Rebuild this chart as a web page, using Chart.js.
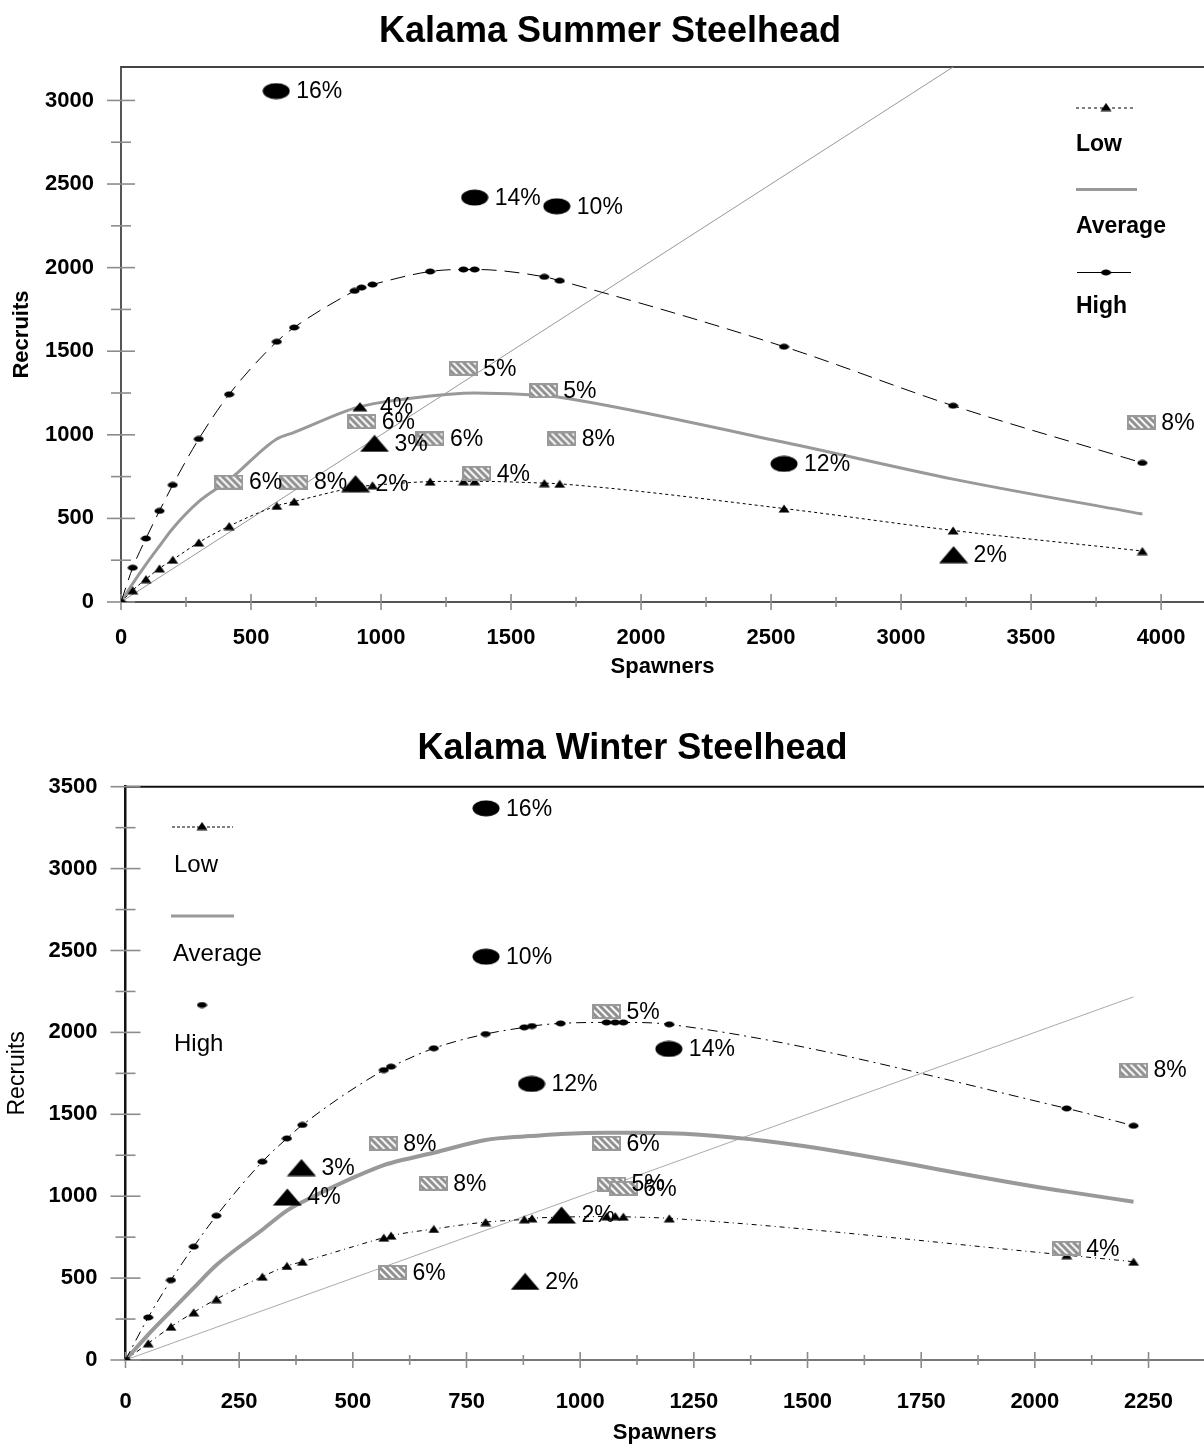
<!DOCTYPE html>
<html>
<head>
<meta charset="utf-8">
<title>Kalama Steelhead stock-recruit curves</title>
<script src="https://cdn.jsdelivr.net/npm/chart.js@4.4.1/dist/chart.umd.min.js"></script>
<style>
  html, body { margin: 0; padding: 0; background: #fff; overflow: hidden; }
  #summerBox { position: absolute; left: 0; top: 0; width: 1204px; height: 700px; }
  #winterBox { position: absolute; left: 0; top: 700px; width: 1204px; height: 748px; }
</style>
</head>
<body>
<div id="summerBox"><canvas id="summerChart"></canvas></div>
<div id="winterBox"><canvas id="winterChart"></canvas></div>
<script>
// ---------------- Kalama Summer Steelhead ----------------
// spawner counts at which the Low / Average / High recruit curves are evaluated
const summerSpawners = [0, 45, 96, 148, 199, 299, 416, 599, 666, 898, 925, 967, 1189, 1317, 1360, 1628, 1687, 2550, 3200, 3928];
const summerLow      = [0, 70, 137, 201, 253, 356, 454, 575, 601, 686, 692, 698, 720, 722, 722, 711, 707, 559, 428, 305];
const summerAverage  = [0, 110, 225, 335, 440, 600, 730, 975, 1015, 1160, 1170, 1185, 1232, 1248, 1250, 1235, 1225, 955, 735, 526];
const summerHigh     = [0, 205, 380, 545, 700, 975, 1242, 1557, 1642, 1861, 1881, 1899, 1977, 1989, 1989, 1945, 1922, 1527, 1174, 832];
// replacement line (recruits = spawners)
const summerReplacementS = [0, 3928];
const summerReplacementR = [0, 3928];
// equilibrium points by harvest rate
const summerHighEqS = [597, 1360, 1676, 2550];
const summerHighEqR = [3056, 2419, 2367, 826];
const summerHighEqLabels = ['16%', '14%', '10%', '12%'];
const summerLowEqS = [919, 975, 902, 3202];
const summerLowEqR = [1168, 949, 708, 283];
const summerLowEqLabels = ['4%', '3%', '2%', '2%'];
const summerAvgEqS = [415, 665, 926, 1188, 1316, 1368, 1624, 1695, 3924];
const summerAvgEqR = [717, 717, 1079, 975, 1398, 770, 1264, 975, 1073];
const summerAvgEqLabels = ['6%', '8%', '6%', '6%', '5%', '4%', '5%', '8%', '8%'];
const summerXTicks = [0, 500, 1000, 1500, 2000, 2500, 3000, 3500, 4000];
const summerYTicks = [0, 500, 1000, 1500, 2000, 2500, 3000];

// ---------------- Kalama Winter Steelhead ----------------
const winterSpawners = [0, 50, 100, 150, 200, 301, 355, 389, 568, 584, 678, 792, 877, 894, 957, 1058, 1077, 1095, 1196, 2070, 2217];
const winterLow      = [0, 102, 203, 291, 372, 509, 574, 600, 747, 759, 800, 842, 859, 865, 872, 877, 878, 875, 865, 640, 600];
const winterAverage  = [0, 155, 298, 440, 580, 795, 912, 965, 1190, 1203, 1265, 1343, 1365, 1368, 1380, 1388, 1388, 1387, 1384, 1028, 966];
const winterHigh     = [0, 260, 488, 692, 881, 1211, 1353, 1435, 1770, 1791, 1903, 1990, 2031, 2039, 2055, 2061, 2061, 2061, 2049, 1536, 1430];
const winterReplacementS = [0, 2217];
const winterReplacementR = [0, 2217];
const winterHighEqS = [793, 793, 1195, 893];
const winterHighEqR = [3368, 2462, 1899, 1685];
const winterHighEqLabels = ['16%', '10%', '14%', '12%'];
const winterLowEqS = [387, 356, 879, 959];
const winterLowEqR = [1175, 995, 480, 885];
const winterLowEqLabels = ['3%', '4%', '2%', '2%'];
const winterAvgEqS = [1058, 567, 1058, 677, 1069, 1095, 587, 2217, 2069];
const winterAvgEqR = [2127, 1323, 1323, 1079, 1074, 1048, 535, 1770, 682];
const winterAvgEqLabels = ['5%', '8%', '6%', '8%', '5%', '6%', '6%', '8%', '4%'];
const winterXTicks = [0, 250, 500, 750, 1000, 1250, 1500, 1750, 2000, 2250];
const winterYTicks = [0, 500, 1000, 1500, 2000, 2500, 3000, 3500];

const FONT = '"Liberation Sans", Arial, Helvetica, sans-serif';

// ---------- marker images ----------
function makeCanvas(w, h, paint) {
  const c = document.createElement('canvas');
  c.width = w; c.height = h;
  paint(c.getContext('2d'), w, h);
  return c;
}
function ellipseMarker(w, h) {
  return makeCanvas(w, h, (g) => {
    g.fillStyle = '#000';
    g.beginPath();
    g.ellipse(w / 2, h / 2, w / 2 - 0.5, h / 2 - 0.5, 0, 0, Math.PI * 2);
    g.fill();
  });
}
function triangleMarker(w, h) {
  return makeCanvas(w, h, (g) => {
    g.fillStyle = '#000';
    g.beginPath();
    g.moveTo(w / 2, 0.5);
    g.lineTo(w - 0.5, h - 0.5);
    g.lineTo(0.5, h - 0.5);
    g.closePath();
    g.fill();
  });
}
function hatchMarker(w, h) {
  return makeCanvas(w, h, (g) => {
    g.fillStyle = '#fff';
    g.fillRect(0, 0, w, h);
    g.save();
    g.beginPath(); g.rect(0, 0, w, h); g.clip();
    g.strokeStyle = '#8e8e8e';
    g.lineWidth = 3;
    for (let k = -h; k < w + h; k += 7) {
      g.beginPath(); g.moveTo(k, 0); g.lineTo(k + h, h); g.stroke();
    }
    g.restore();
    g.strokeStyle = '#999';
    g.lineWidth = 2;
    g.strokeRect(1, 1, w - 2, h - 2);
  });
}

const bigEllipse = ellipseMarker(28, 17);
const bigTriangle = triangleMarker(30, 18);
const midTriangle = triangleMarker(16, 10);
const hatchBox = hatchMarker(29, 15);
const smallDot = ellipseMarker(11, 7);
const smallTriangle = triangleMarker(12, 9);

function points(xs, ys) { return xs.map((x, i) => ({ x, y: ys[i] })); }

function curveDataset(label, xs, ys, style) {
  return Object.assign({
    label, data: points(xs, ys), showLine: true,
    cubicInterpolationMode: 'monotone',
    borderColor: '#000', backgroundColor: '#000', borderWidth: 1,
    pointRadius: 5, pointHoverRadius: 5, order: 1
  }, style);
}
function markerDataset(label, xs, ys, labels, style) {
  return Object.assign({
    label, data: points(xs, ys), showLine: false, pctLabels: labels,
    pointRadius: 8, pointHoverRadius: 8, order: 0
  }, style);
}

// ---------- plugins ----------
const framePlugin = {
  id: 'frame',
  beforeDatasetsDraw(chart, args, o) {
    const { ctx, chartArea: a, scales: { x, y } } = chart;
    ctx.save();
    ctx.strokeStyle = o.topColor; ctx.lineWidth = o.topWidth;
    ctx.beginPath(); ctx.moveTo(a.left, a.top); ctx.lineTo(a.right, a.top); ctx.stroke();
    ctx.strokeStyle = '#8c8c8c'; ctx.lineWidth = 1.6;
    for (let v = 0; v <= y.max + 0.01; v += o.yMinor) {
      const py = y.getPixelForValue(v);
      const half = (v % o.yMajor === 0) ? o.yMajorHalf : o.yMinorHalf;
      ctx.beginPath(); ctx.moveTo(a.left - half, py); ctx.lineTo(a.left + half, py); ctx.stroke();
    }
    for (let v = 0; v <= x.max + 0.01; v += o.xMinor) {
      const px = x.getPixelForValue(v);
      const half = (v % o.xMajor === 0) ? o.xMajorHalf : o.xMinorHalf;
      ctx.beginPath(); ctx.moveTo(px, a.bottom - half); ctx.lineTo(px, a.bottom + half); ctx.stroke();
    }
    ctx.restore();
  }
};

const headingPlugin = {
  id: 'heading',
  afterDraw(chart, args, o) {
    const ctx = chart.ctx;
    ctx.save();
    ctx.font = 'bold 36px ' + FONT;
    ctx.fillStyle = '#000';
    ctx.textAlign = 'center';
    ctx.textBaseline = 'alphabetic';
    ctx.fillText(o.text, o.x, o.y);
    ctx.restore();
  }
};

const pctLabelPlugin = {
  id: 'pctLabels',
  afterDatasetsDraw(chart, args, o) {
    const ctx = chart.ctx;
    ctx.save();
    ctx.font = o.font;
    ctx.fillStyle = '#000';
    ctx.textAlign = 'left';
    ctx.textBaseline = 'middle';
    chart.data.datasets.forEach((ds, i) => {
      if (!ds.pctLabels) return;
      chart.getDatasetMeta(i).data.forEach((pt, j) => {
        ctx.fillText(ds.pctLabels[j], pt.x + o.offset, pt.y + 1);
      });
    });
    ctx.restore();
  }
};

const keyPlugin = {
  id: 'key',
  afterDraw(chart, args, o) {
    const ctx = chart.ctx;
    ctx.save();
    o.items.forEach((it) => {
      if (it.line) {
        ctx.strokeStyle = it.line.color; ctx.lineWidth = it.line.width;
        ctx.setLineDash(it.line.dash || []);
        ctx.beginPath(); ctx.moveTo(it.line.x1, it.line.y); ctx.lineTo(it.line.x2, it.line.y); ctx.stroke();
        ctx.setLineDash([]);
      }
      if (it.marker) {
        const m = it.marker.img;
        ctx.drawImage(m, it.marker.x - m.width / 2, it.marker.y - m.height / 2);
      }
      ctx.font = o.font; ctx.fillStyle = '#000';
      ctx.textAlign = 'left'; ctx.textBaseline = 'alphabetic';
      ctx.fillText(it.text, it.tx, it.ty);
    });
    ctx.restore();
  }
};

function scaleOptions(c) {
  return {
    x: {
      type: 'linear', min: 0, max: c.xMax,
      afterBuildTicks: (s) => { s.ticks = c.xTicks.map((v) => ({ value: v })); },
      afterFit: (s) => { s.height = c.xHeight; s.paddingLeft = 0; s.paddingRight = 0; },
      ticks: { callback: (v) => String(v), autoSkip: false, maxRotation: 0, minRotation: 0,
               padding: c.xLabelPad, color: '#000', font: { family: FONT, size: 22, weight: 'bold' } },
      grid: { drawOnChartArea: false, drawTicks: false },
      border: { display: true, color: c.xAxisColor, width: 2 },
      title: { display: true, text: 'Spawners', color: '#000',
               font: { family: FONT, size: 22, weight: 'bold' }, padding: { top: 0, bottom: c.xTitlePad } }
    },
    y: {
      type: 'linear', min: 0, max: c.yMax,
      afterBuildTicks: (s) => { s.ticks = c.yTicks.map((v) => ({ value: v })); },
      afterFit: (s) => { s.width = c.yWidth; s.paddingTop = 0; s.paddingBottom = 0; },
      ticks: { callback: (v) => String(v), autoSkip: false, padding: c.yLabelPad, color: '#000',
               font: { family: FONT, size: 22, weight: 'bold' } },
      grid: { drawOnChartArea: false, drawTicks: false },
      border: { display: true, color: c.yAxisColor, width: c.yAxisWidth },
      title: { display: true, text: 'Recruits', color: '#000',
               font: { family: FONT, size: c.yTitleSize, weight: c.yTitleWeight }, padding: { top: c.yTitlePad, bottom: 0 } }
    }
  };
}

// ---------- summer chart ----------
new Chart(document.getElementById('summerChart'), {
  type: 'scatter',
  data: {
    datasets: [
      markerDataset('High equilibrium', summerHighEqS, summerHighEqR, summerHighEqLabels, { pointStyle: bigEllipse }),
      markerDataset('Low equilibrium', summerLowEqS, summerLowEqR, summerLowEqLabels,
        { pointStyle: [midTriangle, bigTriangle, bigTriangle, bigTriangle] }),
      markerDataset('Average equilibrium', summerAvgEqS, summerAvgEqR, summerAvgEqLabels, { pointStyle: hatchBox }),
      curveDataset('High', summerSpawners, summerHigh, { borderDash: [15, 8], pointStyle: smallDot }),
      curveDataset('Low', summerSpawners, summerLow, { borderDash: [3, 3], pointStyle: smallTriangle }),
      curveDataset('Average', summerSpawners, summerAverage, { borderColor: '#999', borderWidth: 3, pointRadius: 0, pointHoverRadius: 0 }),
      { label: 'Replacement', data: points(summerReplacementS, summerReplacementR), showLine: true,
        borderColor: '#999', borderWidth: 1, pointRadius: 0, pointHoverRadius: 0, order: 2 }
    ]
  },
  options: {
    responsive: true, maintainAspectRatio: false, animation: false, events: [],
    layout: { autoPadding: false, padding: { top: 67, left: 0, right: 0, bottom: 0 } },
    plugins: {
      legend: { display: false }, tooltip: { enabled: false },
      frame: { topColor: '#444', topWidth: 2, yMajor: 500, yMinor: 250, yMajorHalf: 14, yMinorHalf: 10,
               xMajor: 500, xMinor: 250, xMajorHalf: 8, xMinorHalf: 5 },
      heading: { text: 'Kalama Summer Steelhead', x: 610, y: 42 },
      pctLabels: { font: '23px ' + FONT, offset: 20 },
      key: {
        font: 'bold 23px ' + FONT,
        items: [
          { text: 'Low', tx: 1076, ty: 151, line: { x1: 1076, x2: 1136, y: 108, color: '#000', width: 1, dash: [3, 3] },
            marker: { img: smallTriangle, x: 1106, y: 107 } },
          { text: 'Average', tx: 1076, ty: 233, line: { x1: 1076, x2: 1137, y: 189.5, color: '#999', width: 3 } },
          { text: 'High', tx: 1076, ty: 313, line: { x1: 1077, x2: 1131, y: 272.5, color: '#000', width: 1 },
            marker: { img: smallDot, x: 1106, y: 272.5 } }
        ]
      }
    },
    scales: scaleOptions({
      xMax: 4165, xTicks: summerXTicks, xHeight: 98, xLabelPad: 23, xAxisColor: '#555', xTitlePad: 20,
      yMax: 3200, yTicks: summerYTicks, yWidth: 121, yLabelPad: 27, yAxisColor: '#555', yAxisWidth: 2,
      yTitleSize: 22, yTitleWeight: 'bold', yTitlePad: 9
    })
  },
  plugins: [framePlugin, headingPlugin, pctLabelPlugin, keyPlugin]
});

// ---------- winter chart ----------
new Chart(document.getElementById('winterChart'), {
  type: 'scatter',
  data: {
    datasets: [
      markerDataset('High equilibrium', winterHighEqS, winterHighEqR, winterHighEqLabels, { pointStyle: bigEllipse }),
      markerDataset('Low equilibrium', winterLowEqS, winterLowEqR, winterLowEqLabels, { pointStyle: bigTriangle }),
      markerDataset('Average equilibrium', winterAvgEqS, winterAvgEqR, winterAvgEqLabels, { pointStyle: hatchBox }),
      curveDataset('High', winterSpawners, winterHigh, { borderDash: [10, 5, 2, 5], pointStyle: smallDot }),
      curveDataset('Low', winterSpawners, winterLow, { borderDash: [5, 4, 1, 4], pointStyle: smallTriangle }),
      curveDataset('Average', winterSpawners, winterAverage, { borderColor: '#999', borderWidth: 4, pointRadius: 0, pointHoverRadius: 0 }),
      { label: 'Replacement', data: points(winterReplacementS, winterReplacementR), showLine: true,
        borderColor: '#aaa', borderWidth: 1, pointRadius: 0, pointHoverRadius: 0, order: 2 }
    ]
  },
  options: {
    responsive: true, maintainAspectRatio: false, animation: false, events: [],
    layout: { autoPadding: false, padding: { top: 86.7, left: 0, right: 0, bottom: 0 } },
    plugins: {
      legend: { display: false }, tooltip: { enabled: false },
      frame: { topColor: '#111', topWidth: 2, yMajor: 500, yMinor: 250, yMajorHalf: 15, yMinorHalf: 10,
               xMajor: 250, xMinor: 125, xMajorHalf: 8, xMinorHalf: 5 },
      heading: { text: 'Kalama Winter Steelhead', x: 632.5, y: 59 },
      pctLabels: { font: '23px ' + FONT, offset: 20 },
      key: {
        font: '24px ' + FONT,
        items: [
          { text: 'Low', tx: 174, ty: 172, line: { x1: 172, x2: 233, y: 127, color: '#000', width: 1, dash: [3, 2] },
            marker: { img: smallTriangle, x: 202, y: 126 } },
          { text: 'Average', tx: 173, ty: 261, line: { x1: 171, x2: 234, y: 216, color: '#999', width: 3 } },
          { text: 'High', tx: 174, ty: 351, marker: { img: smallDot, x: 202, y: 305 } }
        ]
      }
    },
    scales: scaleOptions({
      xMax: 2372, xTicks: winterXTicks, xHeight: 88, xLabelPad: 28.5, xAxisColor: '#777', xTitlePad: 2,
      yMax: 3500, yTicks: winterYTicks, yWidth: 125.5, yLabelPad: 28, yAxisColor: '#111', yAxisWidth: 2.5,
      yTitleSize: 23, yTitleWeight: 'normal', yTitlePad: 4
    })
  },
  plugins: [framePlugin, headingPlugin, pctLabelPlugin, keyPlugin]
});
</script>
</body>
</html>
